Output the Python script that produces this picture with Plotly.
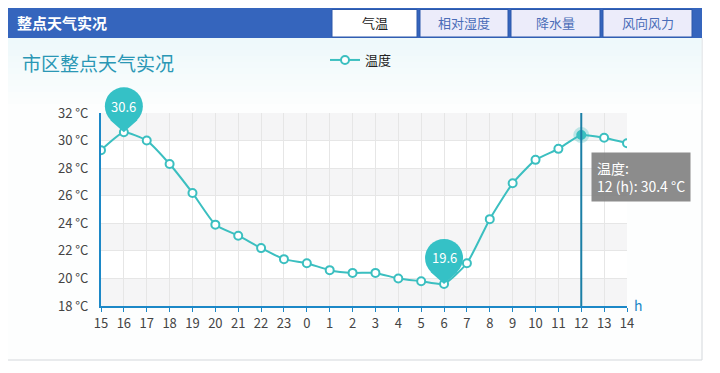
import plotly.graph_objects as go

# ---- data ----
hours = ["15", "16", "17", "18", "19", "20", "21", "22", "23", "0", "1", "2",
         "3", "4", "5", "6", "7", "8", "9", "10", "11", "12", "13", "14"]
temps = [29.3, 30.6, 30.0, 28.3, 26.2, 23.9, 23.1, 22.2, 21.4, 21.1, 20.6, 20.4,
         20.4, 20.0, 19.8, 19.6, 21.1, 24.3, 26.9, 28.6, 29.4, 30.4, 30.2, 29.8]
y_ticks = [18, 20, 22, 24, 26, 28, 30, 32]
y_tick_labels = [f"{v} °C" for v in y_ticks]
tabs = ["气温", "相对湿度", "降水量", "风向风力"]
series_name = "温度"
chart_title = "市区整点天气实况"
header_title = "整点天气实况"
hover_index = hours.index("12")

FONT = "Noto Sans CJK SC"
TEAL = "#3bbfc0"
PIN = "#35c1c6"
AXIS = "#1c88c7"

# page geometry (the page body has an 8px margin)
O = 8
FW, FH = 720 - O, 373 - O
L, R, T, B = 93, 93, 105, 67
W = FW - L - R
H = FH - T - B
def px(x):  # window pixel -> paper
    return (x - O - L) / W
def py(y):
    return (FH - B - (y - O)) / H

idx = list(range(len(hours)))
imax = temps.index(max(temps))
imin = temps.index(min(temps))
x_lo, x_hi = idx[0], idx[-1]
y_lo, y_hi = y_ticks[0], y_ticks[-1]

fig = go.Figure()

# halo for hovered point
fig.add_trace(go.Scatter(
    x=[idx[hover_index]], y=[temps[hover_index]], mode="markers",
    marker=dict(size=16, color="rgba(59,191,192,0.3)", line=dict(width=0)),
    showlegend=False, hoverinfo="skip"))

mcolors = ["white"] * len(hours)
mcolors[hover_index] = TEAL
fig.add_trace(go.Scatter(
    x=idx, y=temps, mode="lines+markers", name=series_name,
    line=dict(color=TEAL, width=2, shape="spline", smoothing=0.5),
    marker=dict(size=8, color=mcolors, line=dict(color=TEAL, width=2)),
    hoverinfo="skip"))

shapes = []
# container
shapes.append(dict(type="rect", xref="paper", yref="paper",
                   x0=px(5), x1=px(702), y0=py(360), y1=py(38),
                   line=dict(color="#d4d8dc", width=1), fillcolor="#fdfefe", layer="below"))
# faint cyan tint fading down the top of the content area
n_steps = 12
for s in range(n_steps):
    a = 38 + s * 6
    t = s / (n_steps - 1)
    r_ = int(238 + (253 - 238) * t)
    g_ = int(249 + (254 - 249) * t)
    b2 = int(251 + (254 - 251) * t)
    shapes.append(dict(type="rect", xref="paper", yref="paper",
                       x0=px(5.5), x1=px(701.5), y0=py(a + 6), y1=py(a),
                       line=dict(width=0), fillcolor=f"rgb({r_},{g_},{b2})", layer="below"))
# plot bands
for k in range(len(y_ticks) - 1):
    shapes.append(dict(type="rect", xref="x", yref="y",
                       x0=x_lo, x1=x_hi, y0=y_ticks[k], y1=y_ticks[k + 1],
                       line=dict(width=0),
                       fillcolor="#f5f5f6" if k % 2 == 0 else "#ffffff", layer="below"))
# header bar
shapes.append(dict(type="rect", xref="paper", yref="paper",
                   x0=px(5), x1=px(702), y0=py(38), y1=py(7),
                   line=dict(width=0), fillcolor="#3565bd", layer="below"))
tab_px = [(332, 417), (420, 508), (511, 600), (603, 692)]
for i, (a, b_) in enumerate(tab_px):
    shapes.append(dict(type="rect", xref="paper", yref="paper",
                       x0=px(a), x1=px(b_), y0=py(37), y1=py(9.5),
                       line=dict(color="#2c59aa", width=1),
                       fillcolor="#ffffff" if i == 0 else "#ececfa", layer="below"))
# vertical hover line
shapes.append(dict(type="line", xref="x", yref="paper",
                   x0=idx[hover_index], x1=idx[hover_index], y0=0, y1=1,
                   line=dict(color="#1b7fa6", width=2), layer="above"))
# pins (paper-referenced so they are not clipped by the plot area)
for i in (imax, imin):
    ax = (idx[i] - x_lo) / (x_hi - x_lo)
    ay = (temps[i] - y_lo) / (y_hi - y_lo)
    shapes.append(dict(type="circle", xref="paper", yref="paper",
                       xsizemode="pixel", ysizemode="pixel",
                       xanchor=ax, yanchor=ay,
                       x0=-19, x1=19, y0=7, y1=45,
                       line=dict(width=0), fillcolor=PIN, layer="above"))
    shapes.append(dict(type="path", xref="paper", yref="paper",
                       xsizemode="pixel", ysizemode="pixel",
                       xanchor=ax, yanchor=ay,
                       path="M0,0 L-13.5,12 L0,26 L13.5,12 Z",
                       line=dict(width=0), fillcolor=PIN, layer="above"))

annotations = []
annotations.append(dict(text="<b>" + header_title + "</b>", xref="paper", yref="paper",
                        x=px(15), y=py(23), xanchor="left", yanchor="middle",
                        showarrow=False, font=dict(family=FONT, size=15, color="white")))
for i, (a, b_) in enumerate(tab_px):
    annotations.append(dict(text=tabs[i], xref="paper", yref="paper",
                            x=px((a + b_) / 2), y=py(23), xanchor="center", yanchor="middle",
                            showarrow=False,
                            font=dict(family=FONT, size=13,
                                      color="#222222" if i == 0 else "#4a6cb8")))
annotations.append(dict(text=chart_title, xref="paper", yref="paper",
                        x=px(20), y=py(63), xanchor="left", yanchor="middle",
                        showarrow=False, font=dict(family=FONT, size=19, color="#2a97b5")))
for i in (imax, imin):
    annotations.append(dict(text=f"{temps[i]:.1f}", xref="x", yref="y",
                            x=idx[i], y=temps[i], yshift=26, showarrow=False,
                            xanchor="center", yanchor="middle",
                            font=dict(family=FONT, size=13, color="white")))
annotations.append(dict(text=f"{series_name}:<br>{hours[hover_index]} (h): {temps[hover_index]:.1f} °C",
                        xref="x", yref="paper", x=idx[hover_index], xshift=10,
                        y=py(152), xanchor="left", yanchor="top", align="left",
                        showarrow=False, bgcolor="rgba(128,128,128,0.9)", borderpad=5,
                        font=dict(family=FONT, size=14, color="white")))
annotations.append(dict(text="h", xref="paper", yref="paper", x=1, xshift=5,
                        y=0, yshift=1, xanchor="left", yanchor="middle", showarrow=False,
                        font=dict(family=FONT, size=14, color=AXIS)))

fig.update_layout(
    width=FW, height=FH,
    margin=dict(l=L, r=R, t=T, b=B, autoexpand=False),
    paper_bgcolor="white", plot_bgcolor="rgba(0,0,0,0)",
    font=dict(family=FONT, size=13, color="#333333"),
    shapes=shapes, annotations=annotations,
    showlegend=True,
    legend=dict(orientation="h", x=px(325), y=py(60), xanchor="left", yanchor="middle",
                bgcolor="rgba(0,0,0,0)", font=dict(family=FONT, size=13, color="#222222"),
                itemwidth=30),
    xaxis=dict(range=[x_lo, x_hi], tickvals=idx, ticktext=hours,
               showgrid=True, gridcolor="#e6e6e6", gridwidth=1,
               showline=True, linecolor=AXIS, linewidth=2,
               ticks="outside", ticklen=4, tickcolor=AXIS, tickwidth=1,
               tickfont=dict(family=FONT, size=13, color="#444444"),
               zeroline=False, fixedrange=True, automargin=False),
    yaxis=dict(range=[y_lo, y_hi], tickvals=y_ticks, ticktext=y_tick_labels,
               showgrid=True, gridcolor="#e6e6e6", gridwidth=1,
               showline=True, linecolor=AXIS, linewidth=2, ticks="",
               ticklabelstandoff=8,
               tickfont=dict(family=FONT, size=13, color="#444444"),
               zeroline=False, fixedrange=True, automargin=False),
)

fig.write_html("out.html")
